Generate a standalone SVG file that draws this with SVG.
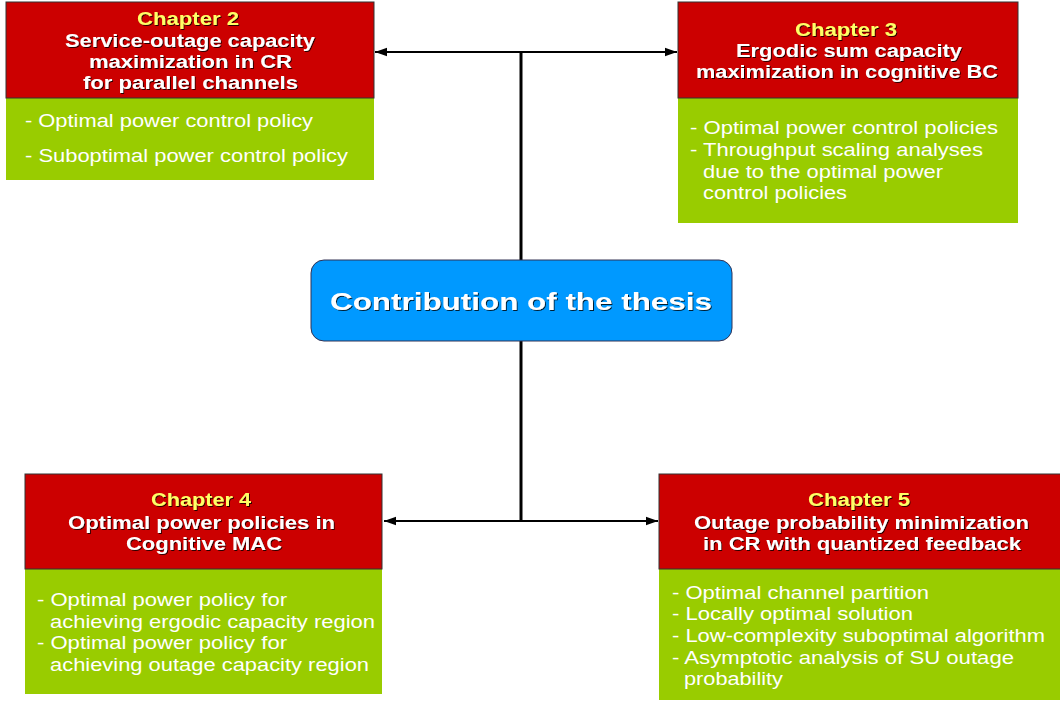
<svg xmlns="http://www.w3.org/2000/svg" width="1060" height="702" viewBox="0 0 1060 702">
<defs>
<filter id="sh" x="-5%" y="-20%" width="110%" height="140%"><feDropShadow dx="1" dy="1" stdDeviation="0.3" flood-color="#000" flood-opacity="0.8"/></filter>
<marker id="ar" viewBox="0 0 12 10" refX="12" refY="5" markerWidth="12" markerHeight="10" markerUnits="userSpaceOnUse" orient="auto-start-reverse"><path d="M0,0.8 L12,5 L0,9.2 Z" fill="#000"/></marker>
</defs>
<style>
.hd{fill:#cc0000;stroke:#333;stroke-width:1}
.bd{fill:#99cc00}
.ch{font-family:"Liberation Sans",Arial,sans-serif;font-weight:bold;font-size:17.5px;fill:#ffff66}
.tt{font-family:"Liberation Sans",Arial,sans-serif;font-weight:bold;font-size:17.5px;fill:#fff}
.it{font-family:"Liberation Sans",Arial,sans-serif;font-size:17.5px;fill:#fff}
.ln{stroke:#000;stroke-width:3;fill:none}
.ar{stroke:#000;stroke-width:2;fill:none;marker-start:url(#ar);marker-end:url(#ar)}
</style>
<rect width="1060" height="702" fill="#fff"/>
<g id="connectors">
<line class="ln" x1="521" y1="52" x2="521" y2="260"/>
<line class="ln" x1="521" y1="341" x2="521" y2="521"/>
<line class="ar" x1="375" y1="52" x2="677" y2="52"/>
<line class="ar" x1="384" y1="521" x2="658" y2="521"/>
</g>
<g id="center">
<rect x="311" y="260" width="421" height="81" rx="13" fill="#0099ff" stroke="#335" stroke-width="1"/>
<text x="330" y="310" textLength="382" lengthAdjust="spacingAndGlyphs" font-family="'Liberation Sans',Arial,sans-serif" font-weight="bold" font-size="24px" fill="#fff" filter="url(#sh)">Contribution of the thesis</text>
</g>
<g id="ch2">
<rect class="bd" x="6" y="98" width="368" height="82"/>
<rect class="hd" x="6" y="2" width="368" height="96"/>
<g filter="url(#sh)">
<text class="ch" x="137" y="25" textLength="102" lengthAdjust="spacingAndGlyphs">Chapter 2</text>
<text class="tt" x="65" y="47" textLength="250" lengthAdjust="spacingAndGlyphs">Service-outage capacity</text>
<text class="tt" x="89" y="68" textLength="203" lengthAdjust="spacingAndGlyphs">maximization in CR</text>
<text class="tt" x="83" y="89" textLength="215" lengthAdjust="spacingAndGlyphs">for parallel channels</text>
</g>
<text class="it" x="25" y="127" textLength="288" lengthAdjust="spacingAndGlyphs">- Optimal power control policy</text>
<text class="it" x="25" y="162" textLength="323" lengthAdjust="spacingAndGlyphs">- Suboptimal power control policy</text>
</g>
<g id="ch3">
<rect class="bd" x="678" y="98" width="340" height="125"/>
<rect class="hd" x="678" y="2" width="340" height="96"/>
<g filter="url(#sh)">
<text class="ch" x="795" y="36" textLength="102" lengthAdjust="spacingAndGlyphs">Chapter 3</text>
<text class="tt" x="736" y="57" textLength="226" lengthAdjust="spacingAndGlyphs">Ergodic sum capacity</text>
<text class="tt" x="696" y="78" textLength="302" lengthAdjust="spacingAndGlyphs">maximization in cognitive BC</text>
</g>
<text class="it" x="690" y="134" textLength="308" lengthAdjust="spacingAndGlyphs">- Optimal power control policies</text>
<text class="it" x="690" y="156" textLength="293" lengthAdjust="spacingAndGlyphs">- Throughput scaling analyses</text>
<text class="it" x="703" y="178" textLength="240" lengthAdjust="spacingAndGlyphs">due to the optimal power</text>
<text class="it" x="703" y="199" textLength="144" lengthAdjust="spacingAndGlyphs">control policies</text>
</g>
<g id="ch4">
<rect class="bd" x="25" y="569" width="357" height="125"/>
<rect class="hd" x="25" y="474" width="357" height="95"/>
<g filter="url(#sh)">
<text class="ch" x="151" y="506" textLength="100" lengthAdjust="spacingAndGlyphs">Chapter 4</text>
<text class="tt" x="68" y="529" textLength="267" lengthAdjust="spacingAndGlyphs">Optimal power policies in</text>
<text class="tt" x="126" y="550" textLength="156" lengthAdjust="spacingAndGlyphs">Cognitive MAC</text>
</g>
<text class="it" x="37" y="606" textLength="250" lengthAdjust="spacingAndGlyphs">- Optimal power policy for</text>
<text class="it" x="50" y="628" textLength="325" lengthAdjust="spacingAndGlyphs">achieving ergodic capacity region</text>
<text class="it" x="37" y="649" textLength="250" lengthAdjust="spacingAndGlyphs">- Optimal power policy for</text>
<text class="it" x="50" y="671" textLength="319" lengthAdjust="spacingAndGlyphs">achieving outage capacity region</text>
</g>
<g id="ch5">
<rect class="bd" x="659" y="569" width="401" height="131"/>
<rect class="hd" x="659" y="474" width="402" height="95"/>
<g filter="url(#sh)">
<text class="ch" x="808" y="506" textLength="102" lengthAdjust="spacingAndGlyphs">Chapter 5</text>
<text class="tt" x="694" y="529" textLength="335" lengthAdjust="spacingAndGlyphs">Outage probability minimization</text>
<text class="tt" x="703" y="550" textLength="318" lengthAdjust="spacingAndGlyphs">in CR with quantized feedback</text>
</g>
<text class="it" x="672" y="599" textLength="257" lengthAdjust="spacingAndGlyphs">- Optimal channel partition</text>
<text class="it" x="672" y="620" textLength="241" lengthAdjust="spacingAndGlyphs">- Locally optimal solution</text>
<text class="it" x="672" y="642" textLength="373" lengthAdjust="spacingAndGlyphs">- Low-complexity suboptimal algorithm</text>
<text class="it" x="672" y="664" textLength="342" lengthAdjust="spacingAndGlyphs">- Asymptotic analysis of SU outage</text>
<text class="it" x="684" y="685" textLength="99" lengthAdjust="spacingAndGlyphs">probability</text>
</g>
</svg>
